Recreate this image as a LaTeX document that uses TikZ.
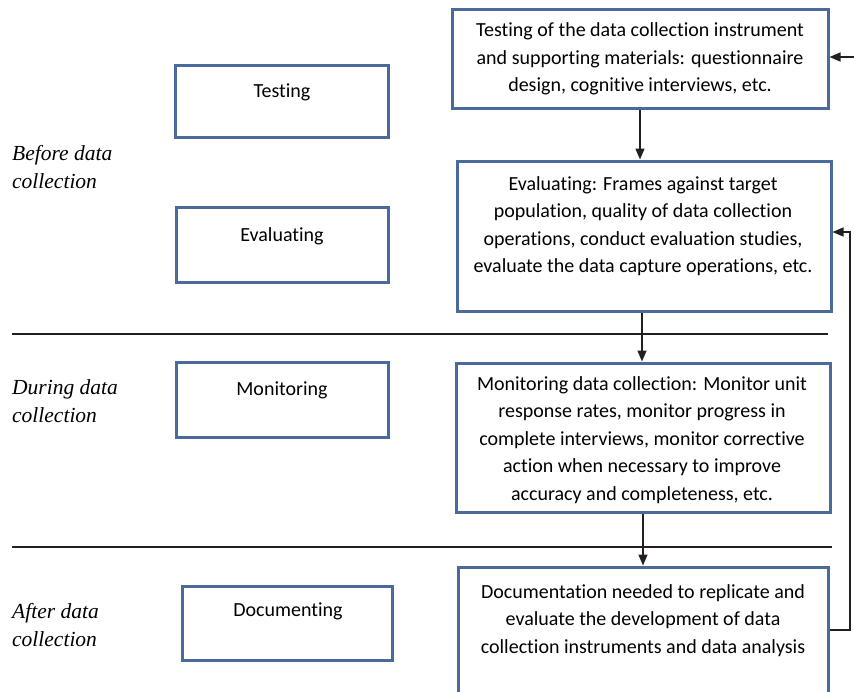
\documentclass[tikz,border=0pt]{standalone}
\usepackage{fontspec}
\setmainfont{Carlito}[Ligatures=NoCommon]
\newfontfamily\phasefont{Liberation Serif}[UprightFont={* Italic}]
\usetikzlibrary{arrows.meta}
\definecolor{boxblue}{HTML}{4A6A9C}
\definecolor{lineblk}{HTML}{231F20}
\tikzset{
  box/.style={draw=boxblue, line width=3pt, rectangle, inner sep=0pt},
  boxtext/.style={align=center, font=\fontsize{20}{27.5}\selectfont, inner sep=0pt, text=black},
  phase/.style={align=left, anchor=west, font=\phasefont\fontsize{21.5}{28}\selectfont, inner sep=0pt},
  conn/.style={draw=lineblk, line width=1.4pt, -{Triangle[length=11pt,width=9pt]}},
  rule/.style={draw=lineblk, line width=1.2pt}
}
\begin{document}
\begin{tikzpicture}[x=1pt,y=-1pt]
\useasboundingbox (0,0) rectangle (854,691);
% left boxes
\node[box, minimum width=213pt, minimum height=72pt] (t1) at (281.5,101) {};
\node[box, minimum width=212pt, minimum height=75pt] (e1) at (282,244.5) {};
\node[box, minimum width=212pt, minimum height=75pt] (m1) at (282,399.5) {};
\node[box, minimum width=210pt, minimum height=74pt] (d1) at (287,623) {};
\node[boxtext] (t1t) at (282,92.5) {Testing};
\node[boxtext] (e1t) at (282,236.5) {Evaluating};
\node[boxtext] (m1t) at (282,390.5) {Monitoring};
\node[boxtext] (d1t) at (288,611.5) {Documenting};
% right boxes
\node[box, minimum width=376pt, minimum height=99pt] (rt) at (640,58.5) {};
\node[box, minimum width=374pt, minimum height=150pt] (re) at (644,236) {};
\node[box, minimum width=374pt, minimum height=149pt] (rm) at (643,437.5) {};
\node[box, minimum width=370pt, minimum height=128pt] (rd) at (643,631) {};
\node[boxtext] (rtt) at (640,59) {Testing of the data collection instrument\\and supporting materials: questionnaire\\design, cognitive interviews, etc.};
\node[boxtext] (ret) at (643,226) {Evaluating: Frames against target\\population, quality of data collection\\operations, conduct evaluation studies,\\evaluate the data capture operations, etc.};
\node[boxtext] (rmt) at (642,440) {Monitoring data collection: Monitor unit\\response rates, monitor progress in\\complete interviews, monitor corrective\\action when necessary to improve\\accuracy and completeness, etc.};
\node[boxtext] (rdt) at (643,620.5) {Documentation needed to replicate and\\evaluate the development of data\\collection instruments and data analysis};
% phase labels
\node[phase] (p1) at (12,167) {Before data\\collection};
\node[phase] (p2) at (12,401) {During data\\collection};
\node[phase] (p3) at (12,625) {After data\\collection};
% separators
\coordinate (s1a) at (12,334);
\coordinate (s1b) at (828,334);
\coordinate (s2a) at (12,547);
\coordinate (s2b) at (832,547);
\draw[rule] (s1a) -- (s1b);
\draw[rule] (s2a) -- (s2b);
% connectors
\draw[conn] (rt.south -| 640,0) -- (re.north -| 640,0);
\draw[conn] (re.south -| 642,0) -- (rm.north -| 642,0);
\draw[conn] (rm.south -| 643,0) -- (rd.north -| 643,0);
\coordinate (ein) at (854,57);
\draw[conn] (ein) -- (rt.east |- ein);
\coordinate (loopa) at (850,630);
\coordinate (loopb) at (850,232);
\draw[conn] (rd.east |- loopa) -- (loopa) -- (loopb) -- (re.east |- loopb);
\end{tikzpicture}
\end{document}
